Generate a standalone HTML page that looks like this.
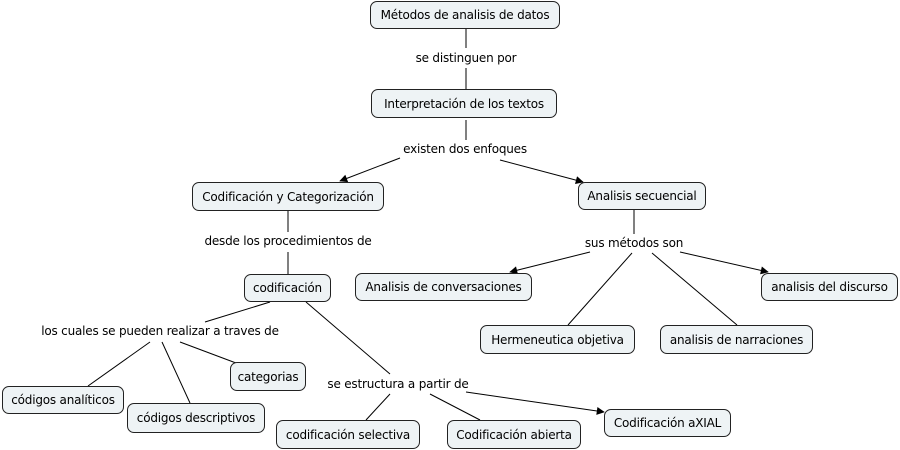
<!DOCTYPE html>
<html><head><style>
body{margin:0;background:#fff;width:900px;height:450px;position:relative;overflow:hidden;font-family:"DejaVu Sans","Liberation Sans",sans-serif;font-size:12px;color:#000}
.b{position:absolute;box-sizing:border-box;border:1px solid #222;border-radius:7px;background:#eef3f5;display:flex;align-items:center;justify-content:center;white-space:nowrap;letter-spacing:-0.2px}
.l{position:absolute;white-space:nowrap;transform:translate(-50%,-50%);background:#fff;letter-spacing:-0.2px}
svg{position:absolute;left:0;top:0}
</style></head><body>
<svg width="900" height="450">
<defs><marker id="a" viewBox="0 0 10 10" refX="9" refY="5" markerWidth="10" markerHeight="8" orient="auto" markerUnits="userSpaceOnUse"><path d="M0,0L10,5L0,10z" fill="#000"/></marker></defs>
<g stroke="#000" stroke-width="1" fill="none">
<line x1="466" y1="29" x2="466" y2="48"/><line x1="466" y1="68" x2="466" y2="89"/>
<line x1="466" y1="120" x2="466" y2="140"/>
<line x1="400" y1="158" x2="340" y2="181" marker-end="url(#a)"/>
<line x1="500" y1="160" x2="583" y2="182" marker-end="url(#a)"/>
<line x1="288" y1="211" x2="288" y2="232"/><line x1="288" y1="252" x2="288" y2="274"/>
<line x1="634" y1="210" x2="634" y2="234"/>
<line x1="590" y1="252" x2="510" y2="272" marker-end="url(#a)"/>
<line x1="680" y1="252" x2="768" y2="272" marker-end="url(#a)"/>
<line x1="632" y1="253" x2="568" y2="325"/><line x1="652" y1="253" x2="737" y2="325"/>
<line x1="270" y1="302" x2="205" y2="322"/><line x1="306" y1="302" x2="390" y2="374"/>
<line x1="150" y1="342" x2="88" y2="386"/><line x1="162" y1="342" x2="190" y2="403"/><line x1="180" y1="342" x2="236" y2="363"/>
<line x1="390" y1="394" x2="366" y2="420"/><line x1="430" y1="394" x2="480" y2="420"/>
<line x1="466" y1="392" x2="604" y2="412" marker-end="url(#a)"/>
</g></svg>
<div class="b" style="left:370px;top:1px;width:190px;height:28px">Métodos de analisis de datos</div>
<div class="b" style="left:371px;top:89px;width:186px;height:29px">Interpretación de los textos</div>
<div class="b" style="left:192px;top:182px;width:192px;height:29px">Codificación y Categorización</div>
<div class="b" style="left:578px;top:182px;width:128px;height:28px">Analisis secuencial</div>
<div class="b" style="left:244px;top:274px;width:87px;height:28px">codificación</div>
<div class="b" style="left:355px;top:273px;width:177px;height:28px">Analisis de conversaciones</div>
<div class="b" style="left:761px;top:273px;width:137px;height:28px">analisis del discurso</div>
<div class="b" style="left:480px;top:325px;width:155px;height:29px">Hermeneutica objetiva</div>
<div class="b" style="left:660px;top:325px;width:153px;height:29px">analisis de narraciones</div>
<div class="b" style="left:230px;top:362px;width:76px;height:29px">categorias</div>
<div class="b" style="left:2px;top:386px;width:122px;height:28px">códigos analíticos</div>
<div class="b" style="left:127px;top:403px;width:138px;height:30px">códigos descriptivos</div>
<div class="b" style="left:276px;top:420px;width:144px;height:29px">codificación selectiva</div>
<div class="b" style="left:447px;top:420px;width:134px;height:29px">Codificación abierta</div>
<div class="b" style="left:604px;top:409px;width:127px;height:28px">Codificación aXIAL</div>
<div class="l" style="left:466px;top:58px">se distinguen por</div>
<div class="l" style="left:465px;top:149px">existen dos enfoques</div>
<div class="l" style="left:288px;top:241px">desde los procedimientos de</div>
<div class="l" style="left:634px;top:243px">sus métodos son</div>
<div class="l" style="left:160px;top:331px">los cuales se pueden realizar a traves de</div>
<div class="l" style="left:398px;top:384px">se estructura a partir de</div>
</body></html>
